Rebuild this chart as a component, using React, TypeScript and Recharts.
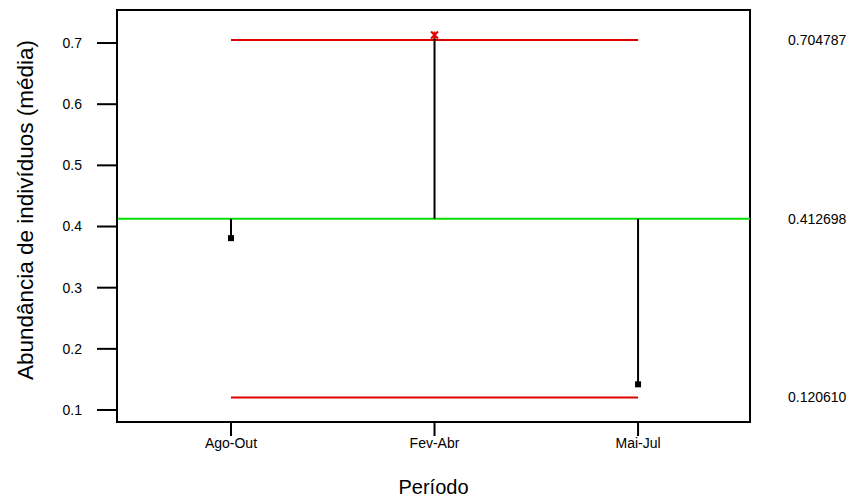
import React from 'react';
import {
  ComposedChart,
  Scatter,
  XAxis,
  YAxis,
  ReferenceLine,
  ReferenceArea,
  Label,
} from 'recharts';

// Períodos amostrados e média de abundância em cada um
const categories = ['Ago-Out', 'Fev-Abr', 'Mai-Jul'];
const means = [0.381, 0.713, 0.142];

// Limites do gráfico de controle
const centerLine = 0.412698;
const upperLimit = 0.704787;
const lowerLimit = 0.12061;
const limitLabels = ['0.704787', '0.412698', '0.120610'];

const yTicks = [0.1, 0.2, 0.3, 0.4, 0.5, 0.6, 0.7];
const xTicks = [1, 2, 3];

const X_DOMAIN: [number, number] = [0.44, 3.55];
const Y_DOMAIN: [number, number] = [0.0804, 0.754];

const FONT = '"Liberation Sans", Arial, sans-serif';

const data = categories.map((name, i) => ({ x: i + 1, y: means[i], name }));

const PointShape = (props: any) => {
  const { cx, cy, payload } = props;
  if (cx == null || cy == null) return null;
  const out = payload.y > upperLimit || payload.y < lowerLimit;
  if (out) {
    const r = 3.5;
    return (
      <g stroke="#e00000" strokeWidth={2}>
        <line x1={cx - r} y1={cy - r} x2={cx + r} y2={cy + r} />
        <line x1={cx - r} y1={cy + r} x2={cx + r} y2={cy - r} />
        <line x1={cx} y1={cy - r} x2={cx} y2={cy + r} />
      </g>
    );
  }
  return <rect x={cx - 3} y={cy - 3} width={6} height={6} fill="#000" />;
};

// Rótulo do limite, escrito à direita da área de plotagem
const sideLabel = (value: string) => (props: any) => {
  const vb = props.viewBox || {};
  const x = (vb.x ?? 0) + (vb.width ?? 0) + 38;
  const y = (vb.y ?? 0) + (vb.height ?? 0) / 2;
  return (
    <text
      x={x}
      y={y}
      dy="0.35em"
      textAnchor="start"
      fill="#000"
      fontSize={14}
      fontFamily={FONT}
    >
      {value}
    </text>
  );
};

export default function App() {
  const first = xTicks[0];
  const last = xTicks[xTicks.length - 1];
  return (
    <div style={{ position: 'absolute', left: 0, top: 0, background: '#fff', fontFamily: FONT }}>
      <ComposedChart
        width={854}
        height={500}
        data={data}
        margin={{ top: 10, right: 104, bottom: 0, left: 57 }}
        style={{ fontFamily: FONT }}
      >
        <XAxis
          type="number"
          dataKey="x"
          domain={X_DOMAIN}
          ticks={xTicks}
          allowDataOverflow
          tickFormatter={(v: number) => categories[v - 1]}
          tick={{ fill: '#000', fontSize: 14, fontFamily: FONT }}
          tickSize={14}
          tickMargin={2}
          height={78}
          axisLine={{ stroke: '#000', strokeWidth: 2 }}
          tickLine={{ stroke: '#000', strokeWidth: 2 }}
        >
          <Label
            value="Período"
            position="insideBottom"
            offset={6}
            style={{ fill: '#000', fontSize: 20, fontFamily: FONT }}
          />
        </XAxis>
        <YAxis
          type="number"
          domain={Y_DOMAIN}
          ticks={yTicks}
          allowDataOverflow
          tickFormatter={(v: number) => v.toFixed(1)}
          tick={{ fill: '#000', fontSize: 14, fontFamily: FONT }}
          tickSize={20}
          tickMargin={15}
          width={60}
          axisLine={{ stroke: '#000', strokeWidth: 2 }}
          tickLine={{ stroke: '#000', strokeWidth: 2 }}
        >
          <Label
            value="Abundância de indivíduos (média)"
            angle={-90}
            position="center"
            dx={-62}
            dy={-6}
            style={{ fill: '#000', fontSize: 22.5, fontFamily: FONT, textAnchor: 'middle' }}
          />
        </YAxis>

        {/* Moldura da área de plotagem */}
        <ReferenceArea
          x1={X_DOMAIN[0]}
          x2={X_DOMAIN[1]}
          y1={Y_DOMAIN[0]}
          y2={Y_DOMAIN[1]}
          fill="none"
          stroke="#000"
          strokeWidth={2}
          ifOverflow="visible"
        />

        {/* Linha central e rótulos dos limites à direita */}
        <ReferenceLine y={centerLine} stroke="#00e000" strokeWidth={2}>
          <Label content={sideLabel(limitLabels[1])} />
        </ReferenceLine>
        <ReferenceLine y={upperLimit} stroke="none">
          <Label content={sideLabel(limitLabels[0])} />
        </ReferenceLine>
        <ReferenceLine y={lowerLimit} stroke="none">
          <Label content={sideLabel(limitLabels[2])} />
        </ReferenceLine>

        {/* Limites superior e inferior entre o primeiro e o último período */}
        <ReferenceLine
          segment={[{ x: first, y: upperLimit }, { x: last, y: upperLimit }]}
          stroke="#e00000"
          strokeWidth={2}
        />
        <ReferenceLine
          segment={[{ x: first, y: lowerLimit }, { x: last, y: lowerLimit }]}
          stroke="#e00000"
          strokeWidth={2}
        />

        {/* Hastes da linha central até cada média */}
        {data.map((d) => (
          <ReferenceLine
            key={d.name}
            segment={[{ x: d.x, y: centerLine }, { x: d.x, y: d.y }]}
            stroke="#000"
            strokeWidth={2}
          />
        ))}

        <Scatter dataKey="y" shape={PointShape} isAnimationActive={false} />
      </ComposedChart>
    </div>
  );
}
